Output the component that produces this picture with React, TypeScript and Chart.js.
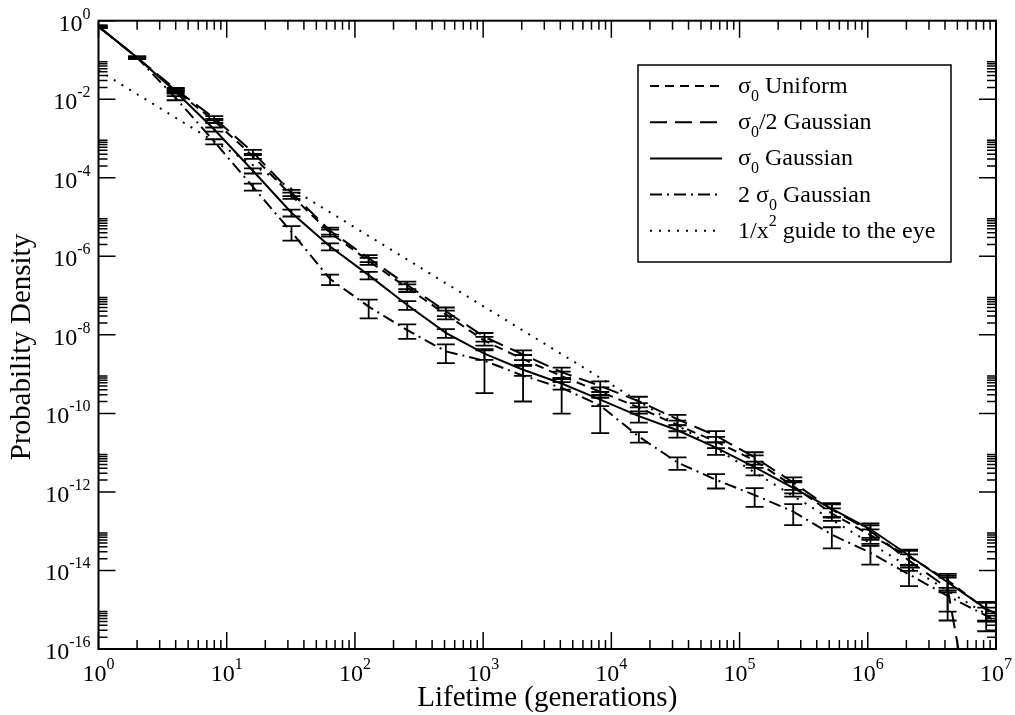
import React, { useEffect, useRef } from "react";
import { Chart, registerables } from "chart.js";

Chart.register(...registerables);

// ---- data ----
const lifetimes = [1, 2, 4, 8, 16, 32, 64, 128, 256, 512, 1024, 2048, 4096, 8192, 16384, 32768, 65536, 131072, 262144, 524288, 1048576, 2097152, 4194304, 8388608, 16777216];

const sigma0Uniform = [7.1e-1, 1.15e-1, 1.66e-2, 2.82e-3, 3.55e-4, 3.55e-5, 3.98e-6, 7.59e-7, 1.58e-7, 3.31e-8, 7.08e-9, 2.4e-9, 8.91e-10, 3.55e-10, 1.41e-10, 5.01e-11, 1.91e-11, 6.31e-12, 1.41e-12, 2.82e-13, 7.94e-14, 2.24e-14, 5.62e-15, 1.0e-15, 2.2e-16];
const halfSigma0Gaussian = [7.1e-1, 1.15e-1, 1.78e-2, 3.31e-3, 4.47e-4, 4.17e-5, 4.47e-6, 8.91e-7, 1.86e-7, 3.98e-8, 8.91e-9, 3.16e-9, 1.12e-9, 5.01e-10, 2.04e-10, 7.08e-11, 2.69e-11, 7.59e-12, 1.74e-12, 3.55e-13, 1.0e-13, 1.78e-14, 3.55e-15, 1e-20, null];
const sigma0Gaussian = [7.1e-1, 1.15e-1, 1.55e-2, 1.7e-3, 1.51e-4, 1.29e-5, 1.78e-6, 3.31e-7, 5.75e-8, 1.12e-8, 3.31e-9, 1.29e-9, 5.75e-10, 2.24e-10, 8.51e-11, 3.72e-11, 1.35e-11, 4.27e-12, 1.26e-12, 3.72e-13, 1.12e-13, 2.4e-14, 5.01e-15, 1.05e-15, 3.55e-16];
const twoSigma0Gaussian = [7.1e-1, 1.15e-1, 1.07e-2, 8.32e-4, 5.89e-5, 4.17e-6, 2.63e-7, 5.25e-8, 1.32e-8, 3.8e-9, 2.19e-9, 9.12e-10, 4.47e-10, 1.58e-10, 2.57e-11, 5.62e-12, 2.04e-12, 8.32e-13, 3.16e-13, 8.13e-14, 2.82e-14, 7.94e-15, 2.24e-15, 7.08e-16, 1.8e-16];

// relative error (sigma / value) of each point
const errUniform = [0.06, 0.06, 0.1, 0.12, 0.15, 0.18, 0.2, 0.2, 0.22, 0.25, 0.25, 0.28, 0.3, 0.3, 0.3, 0.3, 0.32, 0.35, 0.35, 0.35, 0.4, 0.4, 0.45, 0.5, 0.5];
const errHalfSigma = [0.06, 0.06, 0.1, 0.12, 0.15, 0.18, 0.2, 0.2, 0.22, 0.25, 0.25, 0.28, 0.3, 0.3, 0.3, 0.3, 0.32, 0.35, 0.35, 0.35, 0.4, 0.45, 0.85, 0.5, 0.5];
const errSigma = [0.06, 0.06, 0.1, 0.12, 0.15, 0.2, 0.2, 0.22, 0.25, 0.25, 0.3, 0.3, 0.3, 0.32, 0.32, 0.35, 0.35, 0.38, 0.4, 0.4, 0.4, 0.42, 0.45, 0.5, 0.5];
const errTwoSigma = [0.06, 0.06, 0.12, 0.15, 0.2, 0.4, 0.3, 0.5, 0.4, 0.5, 0.85, 0.78, 0.78, 0.8, 0.3, 0.35, 0.4, 0.5, 0.55, 0.55, 0.5, 0.5, 0.6, 0.6, 0.6];

// 1/x^2 guide to the eye
const guideLifetimes = [1, 10, 100, 1e3, 1e4, 1e5, 1e6, 1e7];
const guideDensity = [5.4e-2, 5.4e-4, 5.4e-6, 5.4e-8, 5.4e-10, 5.4e-12, 5.4e-14, 5.4e-16];

// axis ticks
const xTickExponents = [0, 1, 2, 3, 4, 5, 6, 7];
const yTickExponents = [0, -2, -4, -6, -8, -10, -12, -14, -16];
const minorMultipliers = [2, 3, 4, 5, 6, 7, 8, 9];

const xTitle = "Lifetime (generations)";
const yTitle = "Probability Density";

type Part = [string, "n" | "sub" | "sup"];
const legendLabels: Part[][] = [
  [["σ", "n"], ["0", "sub"], [" Uniform", "n"]],
  [["σ", "n"], ["0", "sub"], ["/2 Gaussian", "n"]],
  [["σ", "n"], ["0", "sub"], [" Gaussian", "n"]],
  [["2 σ", "n"], ["0", "sub"], [" Gaussian", "n"]],
  [["1/x", "n"], ["2", "sup"], [" guide to the eye", "n"]],
];

const FONT = '"Liberation Serif", "Times New Roman", serif';
const BASE = 24;
const TITLE = 29;
const SMALL = 16;

function measureRich(ctx: CanvasRenderingContext2D, parts: Part[], size: number) {
  let w = 0;
  for (const [t, k] of parts) {
    ctx.font = `${k === "n" ? size : SMALL}px ${FONT}`;
    w += ctx.measureText(t).width;
  }
  return w;
}

function drawRich(ctx: CanvasRenderingContext2D, parts: Part[], x: number, y: number, size: number) {
  let cx = x;
  ctx.textAlign = "left";
  ctx.textBaseline = "alphabetic";
  for (const [t, k] of parts) {
    ctx.font = `${k === "n" ? size : SMALL}px ${FONT}`;
    const dy = k === "sub" ? 8 : k === "sup" ? -12 : 0;
    ctx.fillText(t, cx, y + dy);
    cx += ctx.measureText(t).width;
  }
}

const errorBarPlugin = {
  id: "errorBars",
  afterDatasetsDraw(chart: any) {
    const { ctx, chartArea: a, scales } = chart;
    ctx.save();
    ctx.beginPath();
    ctx.rect(a.left, a.top, a.right - a.left, a.bottom - a.top);
    ctx.clip();
    ctx.strokeStyle = "#000";
    ctx.lineWidth = 1.8;
    chart.data.datasets.forEach((ds: any) => {
      if (!ds.errors) return;
      ds.data.forEach((p: any, i: number) => {
        if (p.y == null) return;
        const r = ds.errors[i];
        const px = scales.x.getPixelForValue(p.x);
        const top = scales.y.getPixelForValue(p.y * (1 + r));
        const lowV = p.y * (1 - r);
        const bot = lowV > 0 ? scales.y.getPixelForValue(lowV) : a.bottom + 10;
        ctx.beginPath();
        ctx.moveTo(px, top);
        ctx.lineTo(px, bot);
        ctx.moveTo(px - 9, top);
        ctx.lineTo(px + 9, top);
        ctx.moveTo(px - 9, bot);
        ctx.lineTo(px + 9, bot);
        ctx.stroke();
      });
    });
    ctx.restore();
  },
};

const framePlugin = {
  id: "graceFrame",
  afterDraw(chart: any) {
    const { ctx, chartArea: a, scales } = chart;
    const xs = scales.x;
    const ys = scales.y;
    ctx.save();
    ctx.fillStyle = "#000";
    ctx.strokeStyle = "#000";
    // ticks
    ctx.lineWidth = 1.5;
    const xMin = xs.min;
    const xMax = xs.max;
    xTickExponents.forEach((e) => {
      const vals = [{ v: Math.pow(10, e), len: 17 }];
      minorMultipliers.forEach((m) => vals.push({ v: m * Math.pow(10, e), len: 9 }));
      vals.forEach(({ v, len }) => {
        if (v < xMin || v > xMax) return;
        const px = xs.getPixelForValue(v);
        ctx.beginPath();
        ctx.moveTo(px, a.bottom);
        ctx.lineTo(px, a.bottom - len);
        ctx.moveTo(px, a.top);
        ctx.lineTo(px, a.top + len);
        ctx.stroke();
      });
    });
    yTickExponents.forEach((e) => {
      const vals = [{ v: Math.pow(10, e), len: 17 }];
      if (e > -16) minorMultipliers.forEach((m) => vals.push({ v: m * Math.pow(10, e - 2), len: 9 }));
      vals.forEach(({ v, len }) => {
        const py = ys.getPixelForValue(v);
        ctx.beginPath();
        ctx.moveTo(a.left, py);
        ctx.lineTo(a.left + len, py);
        ctx.moveTo(a.right, py);
        ctx.lineTo(a.right - len, py);
        ctx.stroke();
      });
    });
    // frame
    ctx.lineWidth = 2;
    ctx.strokeRect(a.left, a.top, a.right - a.left, a.bottom - a.top);

    // tick labels
    xTickExponents.forEach((e) => {
      const parts: Part[] = [["10", "n"], [String(e), "sup"]];
      const w = measureRich(ctx, parts, BASE);
      const px = xs.getPixelForValue(Math.pow(10, e));
      drawRich(ctx, parts, px - w / 2, a.bottom + 32, BASE);
    });
    yTickExponents.forEach((e) => {
      const parts: Part[] = [["10", "n"], [String(e), "sup"]];
      const w = measureRich(ctx, parts, BASE);
      const py = ys.getPixelForValue(Math.pow(10, e));
      drawRich(ctx, parts, a.left - 8 - w, py + 10, BASE);
    });

    // axis titles
    ctx.font = `${TITLE}px ${FONT}`;
    ctx.textAlign = "center";
    ctx.textBaseline = "alphabetic";
    ctx.fillText(xTitle, (a.left + a.right) / 2, a.bottom + 57);
    ctx.save();
    ctx.translate(30, 347);
    ctx.rotate(-Math.PI / 2);
    ctx.fillText(yTitle, 0, 0);
    ctx.restore();

    // legend
    const bx = 638, by = 65, bw = 313, bh = 197;
    ctx.fillStyle = "#fff";
    ctx.fillRect(bx, by, bw, bh);
    ctx.lineWidth = 1.5;
    ctx.strokeRect(bx, by, bw, bh);
    ctx.fillStyle = "#000";
    const dsList = chart.data.datasets;
    legendLabels.forEach((parts, i) => {
      const base = 93 + i * 36.2;
      const ds = dsList[i];
      ctx.save();
      ctx.lineWidth = ds.borderWidth;
      ctx.setLineDash(ds.borderDash || []);
      ctx.beginPath();
      ctx.moveTo(650, base - 7);
      ctx.lineTo(722, base - 7);
      ctx.stroke();
      ctx.restore();
      drawRich(ctx, parts, 738, base, BASE);
    });
    ctx.restore();
  },
};

function series(values: (number | null)[]) {
  return lifetimes.map((x, i) => ({ x, y: values[i] }));
}

export default function App() {
  const ref = useRef<HTMLCanvasElement | null>(null);
  useEffect(() => {
    if (!ref.current) return;
    const common = { showLine: true, pointRadius: 0, borderColor: "#000", backgroundColor: "#000", borderWidth: 2, fill: false, tension: 0 };
    const chart = new Chart(ref.current, {
      type: "scatter",
      data: {
        datasets: [
          { ...common, label: "σ0 Uniform", data: series(sigma0Uniform), borderDash: [9, 6], errors: errUniform } as any,
          { ...common, label: "σ0/2 Gaussian", data: series(halfSigma0Gaussian), borderDash: [17, 8], errors: errHalfSigma } as any,
          { ...common, label: "σ0 Gaussian", data: series(sigma0Gaussian), borderDash: [], errors: errSigma } as any,
          { ...common, label: "2 σ0 Gaussian", data: series(twoSigma0Gaussian), borderDash: [12, 5, 2, 5], errors: errTwoSigma } as any,
          { ...common, label: "1/x^2 guide to the eye", data: guideLifetimes.map((x, i) => ({ x, y: guideDensity[i] })), borderDash: [2, 7] } as any,
        ],
      },
      options: {
        responsive: false,
        animation: false,
        devicePixelRatio: 1,
        layout: { padding: { left: 98.5, top: 20.7, right: 19, bottom: 66 } },
        plugins: { legend: { display: false }, tooltip: { enabled: false } },
        scales: {
          x: { type: "logarithmic", min: 1, max: 1e7, display: false },
          y: { type: "logarithmic", min: 1e-16, max: 1, display: false },
        },
      },
      plugins: [errorBarPlugin, framePlugin],
    } as any);
    return () => chart.destroy();
  }, []);
  return (
    <div>
      <canvas ref={ref} width={1015} height={715} style={{ position: "absolute", left: 0, top: 0 }} />
    </div>
  );
}
